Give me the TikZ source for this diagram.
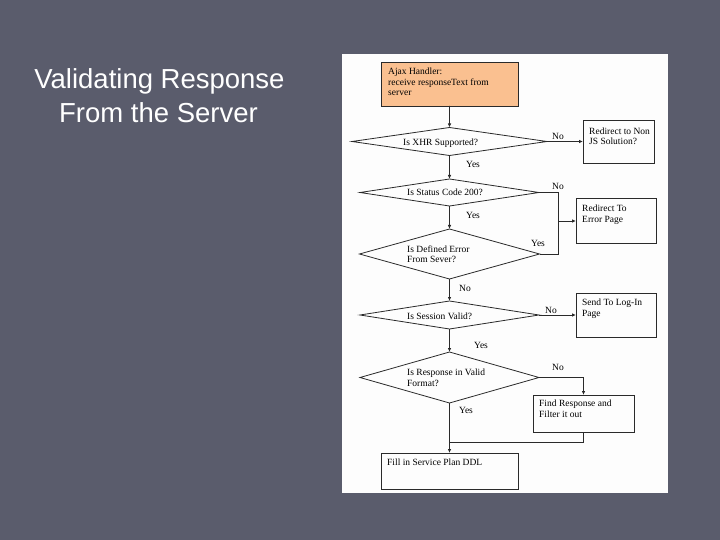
\documentclass[tikz,border=0pt]{standalone}
\usepackage{fontspec}
\setmainfont{Liberation Serif}
\newfontfamily\titlefont{Liberation Sans}
\usetikzlibrary{shapes.geometric,arrows.meta}
\definecolor{bgslate}{HTML}{5A5C6C}
\definecolor{panelwhite}{HTML}{FDFDFD}
\definecolor{peach}{HTML}{FAC090}
\definecolor{inkline}{HTML}{2A2A2A}
\tikzset{
  x=1bp,y=-1bp,
  boxnode/.style={draw=inkline,line width=0.8bp,rectangle,inner sep=0,outer sep=0,anchor=north west},
  decnode/.style={draw=inkline,line width=0.8bp,diamond,inner sep=0,outer sep=0},
  txtnode/.style={font=\fontsize{9.5bp}{10.5bp}\selectfont,text=black,inner sep=0,align=left},
  lblnode/.style={font=\fontsize{9.5bp}{10.5bp}\selectfont,text=black,inner sep=0},
  conn/.style={draw=inkline,line width=0.8bp},
  arr/.style={conn,-{Latex[length=4bp,width=3.5bp]}},
  titletext/.style={font=\titlefont\fontsize{27.5bp}{34bp}\selectfont,text=white,inner sep=0,anchor=base}
}
\begin{document}
\begin{tikzpicture}
\useasboundingbox (0,0) rectangle (720,540);
\fill[bgslate] (0,0) rectangle (720,540);
\fill[panelwhite] (342,54) rectangle (668,493);

% title
\node[titletext] (t1) at (159.5,89) {Validating Response};
\node[titletext] (t2) at (158.5,123) {From the Server};

% boxes
\node[boxnode,fill=peach,minimum width=137bp,minimum height=44bp] (b0) at (381,62) {};
\node[txtnode,anchor=north west] (b0t) at (388,68) {Ajax Handler:\\receive responseText from\\server};

\node[boxnode,minimum width=71bp,minimum height=43bp] (br1) at (583,120) {};
\node[txtnode,anchor=north west] (br1t) at (589,127.5) {Redirect to Non\\JS Solution?};

\node[boxnode,minimum width=80bp,minimum height=45bp] (br2) at (576,198) {};
\node[txtnode,anchor=north west] (br2t) at (582,205) {Redirect To\\Error Page};

\node[boxnode,minimum width=80bp,minimum height=44bp] (br3) at (576,293) {};
\node[txtnode,anchor=north west] (br3t) at (582,299) {Send To Log-In\\Page};

\node[boxnode,minimum width=101bp,minimum height=37bp] (br4) at (533,395) {};
\node[txtnode,anchor=north west] (br4t) at (539,400) {Find Response and\\Filter it out};

\node[boxnode,minimum width=137bp,minimum height=36bp] (b5) at (381,453) {};
\node[txtnode,anchor=north west] (b5t) at (387,458.5) {Fill in Service Plan DDL};

% decisions
\node[decnode,minimum width=195bp,minimum height=28bp] (d1) at (449.5,141.5) {};
\node[txtnode,anchor=west] (d1t) at (403,143) {Is XHR Supported?};

\node[decnode,minimum width=179bp,minimum height=27bp] (d2) at (449.5,192.5) {};
\node[txtnode,anchor=west] (d2t) at (407,192) {Is Status Code 200?};

\node[decnode,minimum width=180bp,minimum height=50bp] (d3) at (449.5,254) {};
\node[txtnode,anchor=west] (d3t) at (407,254) {Is Defined Error\\From Sever?};

\node[decnode,minimum width=179bp,minimum height=28bp] (d4) at (449.5,315) {};
\node[txtnode,anchor=west] (d4t) at (407,316) {Is Session Valid?};

\node[decnode,minimum width=179bp,minimum height=51bp] (d5) at (449.5,377.5) {};
\node[txtnode,anchor=west] (d5t) at (407,378) {Is Response in Valid\\Format?};

% junction coordinates
\coordinate (j) at (558,221);
\coordinate (m) at (449.5,442);

% connectors
\draw[arr] (b0.south) -- (d1.north);
\draw[arr] (d1.east) -- (d1.east -| br1.west);
\draw[arr] (d1.south) -- (d2.north);
\draw[conn] (d2.east) -| (j);
\draw[conn] (d3.east) -| (j);
\draw[arr] (j) -- (j -| br2.west);
\draw[arr] (d2.south) -- (d3.north);
\draw[arr] (d3.south) -- (d4.north);
\draw[arr] (d4.east) -- (d4.east -| br3.west);
\draw[arr] (d4.south) -- (d5.north);
\draw[arr] (d5.east) -| (br4.north);
\draw[arr] (d5.south) -- (b5.north);
\draw[conn] (br4.south) |- (m);

% labels
\node[lblnode] (l1) at (558,136) {No};
\node[lblnode] (l2) at (473,164) {Yes};
\node[lblnode] (l3) at (558,186) {No};
\node[lblnode] (l4) at (473,215) {Yes};
\node[lblnode] (l5) at (538,243) {Yes};
\node[lblnode] (l6) at (465,288) {No};
\node[lblnode] (l7) at (551,310) {No};
\node[lblnode] (l8) at (481,345) {Yes};
\node[lblnode] (l9) at (558,367) {No};
\node[lblnode] (l10) at (466,410) {Yes};
\end{tikzpicture}
\end{document}
